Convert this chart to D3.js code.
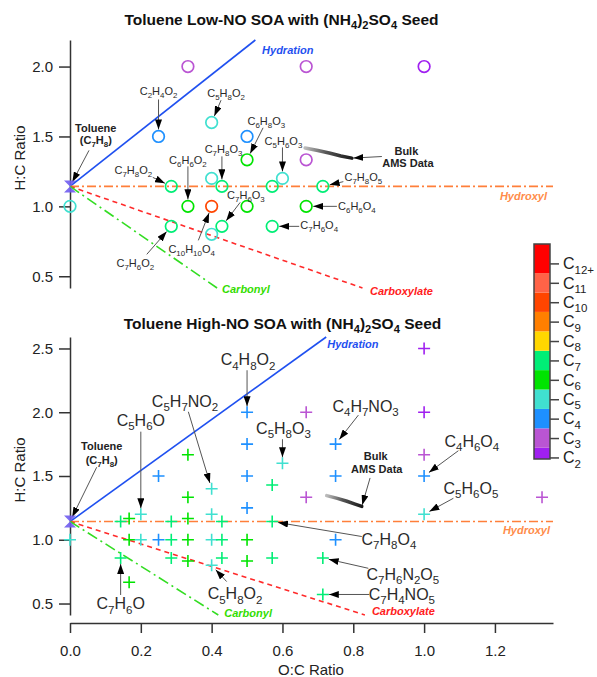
<!DOCTYPE html>
<html>
<head>
<meta charset='utf-8'>
<script src='https://cdn.jsdelivr.net/npm/d3@7'></script>
<style>
  body { margin: 0; background: #fff; }
  text { font-family: 'Liberation Sans', Arial, sans-serif; }
</style>
</head>
<body>
<div id='chart'></div>
<script>
// ---- data ----
var carbonNames = ['C2', 'C3', 'C4', 'C5', 'C6', 'C7', 'C8', 'C9', 'C10', 'C11', 'C12+'];
var carbonColors = ['#A020F0', '#BA55D3', '#1E90FF', '#40E0D0', '#00E400', '#00EE76',
  '#FFD700', '#FF7F00', '#FF4500', '#FF6347', '#FF0000'];

// low-NO panel (O:C, H:C, number of carbons)
var lowOC = [0, 0.333, 0.667, 1.0, 0.25, 0.4, 0.5, 0.5, 0.667, 0.6, 0.4, 0.286, 0.429, 0.571, 0.714,
  0.333, 0.4, 0.5, 0.667, 0.286, 0.429, 0.571, 0.4];
var lowHC = [1.0, 2.0, 2.0, 2.0, 1.5, 1.6, 1.5, 1.333, 1.333, 1.2, 1.2, 1.143, 1.143, 1.143, 1.143,
  1.0, 1.0, 1.0, 1.0, 0.857, 0.857, 0.857, 0.8];
var lowNC = [5, 3, 3, 2, 4, 5, 4, 6, 3, 5, 5, 7, 7, 7, 7, 6, 10, 6, 6, 7, 7, 7, 5];

// high-NO panel
var highOC = [0, 0.143, 0.167, 0.286, 0.333, 0.429, 0.571, 0.167, 0.2, 0.25, 0.286, 0.333, 0.4, 0.429,
  0.5, 0.75, 0.143, 0.286, 0.429, 0.571, 0.714, 0.333, 0.5, 0.4, 0.167, 0.714, 0.2, 0.4, 0.5, 1.0,
  0.333, 0.667, 1.333, 0.4, 0.571, 0.25, 0.5, 0.75, 1.0, 0.6, 0.333, 1.0, 0.5, 0.75, 0.5, 0.667, 1.0, 1.0];
var highHC = [1.0, 1.143, 1.167, 1.143, 1.167, 1.143, 1.143, 1.0, 1.0, 1.0, 1.0, 1.0, 1.0, 1.0,
  1.0, 1.0, 0.857, 0.857, 0.857, 0.857, 0.857, 0.833, 0.833, 0.8, 0.667, 0.571, 1.2, 1.2, 1.25, 1.2,
  1.333, 1.333, 1.333, 1.4, 1.429, 1.5, 1.5, 1.5, 1.5, 1.6, 1.667, 1.667, 1.75, 1.75, 2.0, 2.0, 2.0, 2.5];
var highNC = [5, 7, 6, 7, 6, 7, 7, 6, 5, 4, 7, 6, 5, 7,
  6, 4, 7, 7, 7, 7, 7, 6, 6, 5, 6, 7, 5, 5, 4, 5,
  6, 3, 3, 5, 7, 4, 4, 4, 4, 5, 6, 3, 4, 4, 4, 3, 2, 2];

// bulk AMS data tracks
var bulkLowOC = [0.664, 0.70, 0.735, 0.765, 0.796];
var bulkLowHC = [1.417, 1.40, 1.38, 1.36, 1.345];
var bulkHighOC = [0.725, 0.755, 0.782, 0.805, 0.824];
var bulkHighHC = [1.346, 1.325, 1.302, 1.28, 1.262];

// toluene precursor
var tolOC = 0, tolHC = 8 / 7;

// reference lines through toluene
var refNames = ['Hydration', 'Hydroxyl', 'Carboxylate', 'Carbonyl'];
var refSlopes = [2, 0, -0.88, -1.75];

// tick values
var xTicks = [0, 0.2, 0.4, 0.6, 0.8, 1.0, 1.2];
var yTicksLow = [0.5, 1.0, 1.5, 2.0];
var yTicksHigh = [0.5, 1.0, 1.5, 2.0, 2.5];

// annotated formulas
var lowNoteText = ['C2H4O2', 'C5H8O2', 'C6H8O3', 'C5H6O3', 'C7H8O3', 'C6H6O2', 'C7H8O2', 'C7H6O3',
  'C10H10O4', 'C7H6O2', 'C7H8O5', 'C6H6O4', 'C7H6O4'];
var lowNoteOC = [0.25, 0.4, 0.5, 0.6, 0.429, 0.333, 0.286, 0.429, 0.4, 0.286, 0.714, 0.667, 0.571];
var lowNoteHC = [1.5, 1.6, 1.333, 1.2, 1.143, 1.0, 1.143, 0.857, 1.0, 0.857, 1.143, 1.0, 0.857];

var highNoteText = ['C4H8O2', 'C5H7NO2', 'C5H6O', 'C5H8O3', 'C4H7NO3', 'C4H6O4', 'C5H6O5', 'C7H8O4',
  'C7H6N2O5', 'C7H4NO5', 'C5H8O2', 'C7H6O'];
var highNoteOC = [0.5, 0.4, 0.2, 0.6, 0.75, 1.0, 1.0, 0.571, 0.714, 0.714, 0.4, 0.143];
var highNoteHC = [2.0, 1.4, 1.2, 1.6, 1.75, 1.5, 1.2, 1.143, 0.857, 0.571, 0.8, 0.857];

// ---- layout ----
var fontFam = "'Liberation Sans', Arial, sans-serif";
var refStyle = [
  { color: '#1F50F0', label: '#1F50F0', dash: null },
  { color: '#FF7F3A', label: '#FF8C4A', dash: '9,3,2,3' },
  { color: '#FF2A2A', label: '#FF2020', dash: '5,4' },
  { color: '#33DD22', label: '#33DD00', dash: '11,4,2,4' }
];

// text offset (tx, ty = baseline) and arrow start (ax, ay), px from the target mark
var lowNotePos = [
  [0, -41.7, 0, -37], [14.4, -25.6, 9.4, -22.3], [19.3, -35, 16, -32], [1, -33, 0, -31],
  [1.6, -33, 0, -30], [0, -42, 0, -40], [-38, -12.4, -18.5, -9], [24, -27, 18.3, -24],
  [-20, 47, -13.3, 34], [-36, 40.3, -24.5, 28], [40.5, -5.7, 20.5, -4.7], [50.7, 3.5, 30.7, 0],
  [47, 3, 27, 0]
];
var highNotePos = [
  [1, -47, 0, -42], [-26.6, -82, -23.3, -77], [0, -88.3, 0, -82.6], [1, -29.3, 0, -24],
  [30, -32.5, 22.8, -29], [47.7, -29.3, 34.3, -25.3], [46.8, -20.3, 29.3, -16],
  [116.7, 23.4, 89.6, 15], [80, 22, 45.5, 10.3], [79, 5.5, 46.5, 0], [23.4, 34, 15, 16.3],
  [0, 51.3, 0, 37]
];

var svg = d3.select('#chart').append('svg')
  .attr('width', 597)
  .attr('height', 677);

var defs = svg.append('defs');
defs.append('marker')
  .attr('id', 'ah')
  .attr('viewBox', '0 0 10 10')
  .attr('refX', 10).attr('refY', 5)
  .attr('markerWidth', 10).attr('markerHeight', 7)
  .attr('markerUnits', 'userSpaceOnUse')
  .attr('preserveAspectRatio', 'none')
  .attr('orient', 'auto')
  .append('path').attr('d', 'M0,0L10,5L0,10Z').attr('fill', '#000');

var x = d3.scaleLinear().domain([0, 1.364]).range([70, 553]);
var yLow = d3.scaleLinear().domain([0.416, 2.19]).range([288, 40]);
var yHigh = d3.scaleLinear().domain([0.41, 2.59]).range([615, 337]);

// text with chemical subscripts
function chem(sel, str, fs) {
  var parts = str.match(/[0-9+]+|[^0-9+]+/g);
  var sub = fs * 0.72, shift = fs * 0.28, down = false;
  parts.forEach(function(p) {
    var t = sel.append('tspan').text(p);
    if (/^[0-9+]+$/.test(p)) {
      t.attr('font-size', sub).attr('dy', down ? 0 : shift);
      down = true;
    } else {
      t.attr('dy', down ? -shift : 0);
      down = false;
    }
  });
  return sel;
}

function arrow(g, sx, sy, tx, ty, gap) {
  var dx = tx - sx, dy = ty - sy, len = Math.sqrt(dx * dx + dy * dy);
  g.append('line')
    .attr('x1', sx).attr('y1', sy)
    .attr('x2', tx - dx / len * gap).attr('y2', ty - dy / len * gap)
    .attr('stroke', '#555').attr('stroke-width', 1)
    .attr('marker-end', 'url(#ah)');
}

function colorOf(n) {
  return carbonColors[Math.min(n, 12) - 2];
}

function drawPanel(p) {
  var y = p.y, g = svg.append('g');
  var yMin = y.domain()[0], yMax = y.domain()[1];

  // title
  chem(g.append('text').attr('x', p.titleX).attr('y', p.titleY)
    .attr('text-anchor', 'middle').attr('font-size', 15.5).attr('font-weight', 'bold')
    .attr('fill', '#111'), p.title, 15.5);

  // y axis
  var ya = g.append('g').attr('transform', 'translate(70,0)')
    .call(d3.axisLeft(y).tickValues(p.yTicks).tickFormat(d3.format('.1f'))
      .tickSize(11).tickPadding(6).tickSizeOuter(0));
  ya.select('.domain').attr('stroke', '#333').attr('stroke-width', 1.5);
  ya.selectAll('.tick line').attr('stroke', '#333').attr('stroke-width', 1.5);
  ya.selectAll('.tick text').attr('font-size', 15).attr('font-family', fontFam).attr('fill', '#222');

  g.append('text')
    .attr('transform', 'translate(25,' + p.yLabelY + ') rotate(-90)')
    .attr('text-anchor', 'middle').attr('font-size', 15).attr('fill', '#222')
    .text('H:C Ratio');

  // reference lines
  refSlopes.forEach(function(s, i) {
    var xe = s > 0 ? (yMax - tolHC) / s : s < 0 ? (yMin - tolHC) / s : x.domain()[1];
    var ye = tolHC + s * xe;
    var st = refStyle[i];
    g.append('line')
      .attr('x1', x(tolOC)).attr('y1', y(tolHC))
      .attr('x2', x(xe)).attr('y2', y(ye))
      .attr('stroke', st.color).attr('stroke-width', 1.6)
      .attr('stroke-dasharray', st.dash);
    var o = p.refLabel[i];
    g.append('text')
      .attr('x', x(xe) + o[0]).attr('y', y(ye) + o[1])
      .attr('text-anchor', o[2])
      .attr('font-size', 11).attr('font-weight', 'bold').attr('font-style', 'italic')
      .attr('fill', st.label)
      .text(refNames[i]);
  });

  // compound markers
  var pts = p.oc.map(function(d, i) { return { oc: d, hc: p.hc[i], n: p.nc[i] }; });
  if (p.marker === 'circle') {
    g.selectAll('.pt').data(pts).enter().append('circle')
      .attr('cx', function(d) { return x(d.oc); })
      .attr('cy', function(d) { return y(d.hc); })
      .attr('r', 5.8)
      .attr('fill', 'none')
      .attr('stroke', function(d) { return colorOf(d.n); })
      .attr('stroke-width', 1.7);
  } else {
    g.selectAll('.pt').data(pts).enter().append('path')
      .attr('transform', function(d) { return 'translate(' + x(d.oc) + ',' + y(d.hc) + ')'; })
      .attr('d', 'M-6,0H6M0,-6V6')
      .attr('fill', 'none')
      .attr('stroke', function(d) { return colorOf(d.n); })
      .attr('stroke-width', 1.6);
  }

  // bulk AMS track
  var bulk = p.bulkOC.map(function(d, i) { return [x(d), y(p.bulkHC[i])]; });
  var grad = defs.append('linearGradient').attr('id', 'bg' + p.id)
    .attr('gradientUnits', 'userSpaceOnUse')
    .attr('x1', bulk[0][0]).attr('y1', bulk[0][1])
    .attr('x2', bulk[bulk.length - 1][0]).attr('y2', bulk[bulk.length - 1][1]);
  grad.append('stop').attr('offset', '0%').attr('stop-color', '#bbb');
  grad.append('stop').attr('offset', '45%').attr('stop-color', '#555');
  grad.append('stop').attr('offset', '100%').attr('stop-color', '#1a1a1a');
  g.append('path').attr('d', d3.line()(bulk))
    .attr('fill', 'none').attr('stroke', 'url(#bg' + p.id + ')')
    .attr('stroke-width', 3.5).attr('stroke-linecap', 'round');

  var be = bulk[bulk.length - 1], bo = p.bulkLabel;
  g.append('text').attr('x', be[0] + bo[0]).attr('y', be[1] + bo[1])
    .attr('text-anchor', 'middle').attr('font-size', 11).attr('font-weight', 'bold')
    .attr('fill', '#222').text('Bulk');
  g.append('text').attr('x', be[0] + bo[2]).attr('y', be[1] + bo[3])
    .attr('text-anchor', 'middle').attr('font-size', 11).attr('font-weight', 'bold')
    .attr('fill', '#222').text('AMS Data');
  arrow(g, be[0] + bo[4], be[1] + bo[5], be[0], be[1], 1.5);

  // formula annotations
  p.notes.forEach(function(t, i) {
    var tx = x(p.noteOC[i]), ty = y(p.noteHC[i]), o = p.notePos[i];
    chem(g.append('text').attr('x', tx + o[0]).attr('y', ty + o[1])
      .attr('text-anchor', 'middle').attr('font-size', p.noteFont).attr('fill', '#2a2a2a'),
      t, p.noteFont);
    arrow(g, tx + o[2], ty + o[3], tx, ty, p.gap);
  });

  // toluene
  var tx0 = x(tolOC), ty0 = y(tolHC), to = p.tolLabel;
  g.append('text').attr('x', tx0 + to[0]).attr('y', ty0 + to[1])
    .attr('text-anchor', 'middle').attr('font-size', 11).attr('font-weight', 'bold')
    .attr('fill', '#222').text('Toluene');
  chem(g.append('text').attr('x', tx0 + to[0]).attr('y', ty0 + to[2])
    .attr('text-anchor', 'middle').attr('font-size', 11).attr('font-weight', 'bold')
    .attr('fill', '#222'), '(C7H8)', 11);
  arrow(g, tx0 + to[3], ty0 + to[4], tx0, ty0, 5);
  g.append('path')
    .attr('transform', 'translate(' + tx0 + ',' + ty0 + ')')
    .attr('d', 'M-6,-6L6,-6L-6,6L6,6Z')
    .attr('fill', '#6F5CF0').attr('fill-opacity', 0.9);
}

drawPanel({
  id: 'low', y: yLow, title: 'Toluene Low-NO SOA with (NH4)2SO4 Seed', titleX: 281.5, titleY: 25,
  yTicks: yTicksLow, yLabelY: 158, oc: lowOC, hc: lowHC, nc: lowNC, marker: 'circle',
  refLabel: [[6.7, 14, 'start'], [-6, 13.6, 'end'], [7.5, 7, 'start'], [5, 5, 'start']],
  bulkOC: bulkLowOC, bulkHC: bulkLowHC, bulkLabel: [54.5, -3.3, 56, 9, 30, -1.6],
  notes: lowNoteText, noteOC: lowNoteOC, noteHC: lowNoteHC, notePos: lowNotePos, noteFont: 11, gap: 7,
  tolLabel: [25.8, -54.7, -42.4, 19, -36]
});

drawPanel({
  id: 'high', y: yHigh, title: 'Toluene High-NO SOA with (NH4)2SO4 Seed', titleX: 282.5, titleY: 329,
  yTicks: yTicksHigh, yLabelY: 470, oc: highOC, hc: highHC, nc: highNC, marker: 'plus',
  refLabel: [[1, 11, 'start'], [-3, 12.4, 'end'], [7, 0, 'start'], [6, 2, 'start']],
  bulkOC: bulkHighOC, bulkHC: bulkHighHC, bulkLabel: [14, -46.4, 15, -33.7, 8.3, -28.4],
  notes: highNoteText, noteOC: highNoteOC, noteHC: highNoteHC, notePos: highNotePos, noteFont: 16, gap: 6,
  tolLabel: [31.7, -71.6, -57.6, 26.7, -54.3]
});

// x axis (bottom panel only)
var xa = svg.append('g').attr('transform', 'translate(0,623)')
  .call(d3.axisBottom(x).tickValues(xTicks).tickFormat(d3.format('.1f'))
    .tickSize(10).tickPadding(12).tickSizeOuter(0));
xa.select('.domain').attr('stroke', '#333').attr('stroke-width', 1.5);
xa.selectAll('.tick line').attr('stroke', '#333').attr('stroke-width', 1.5);
xa.selectAll('.tick text').attr('font-size', 15).attr('font-family', fontFam).attr('fill', '#222');
svg.append('text').attr('x', 311).attr('y', 675).attr('text-anchor', 'middle')
  .attr('font-size', 15).attr('fill', '#222').text('O:C Ratio');

// carbon number colour bar
var yLeg = d3.scaleLinear().domain([1.92, 13]).range([459, 244]);
var leg = svg.append('g');
carbonNames.forEach(function(name, i) {
  var n = i + 2;
  var lo = i === 0 ? 1.92 : n - 0.5;
  var hi = i === carbonNames.length - 1 ? 13 : n + 0.5;
  leg.append('rect')
    .attr('x', 534).attr('width', 16)
    .attr('y', yLeg(hi)).attr('height', yLeg(lo) - yLeg(hi))
    .attr('fill', carbonColors[i]);
});
leg.append('rect').attr('x', 534).attr('y', 244).attr('width', 16).attr('height', 215)
  .attr('fill', 'none').attr('stroke', '#444').attr('stroke-width', 1.5);
var la = leg.append('g').attr('transform', 'translate(550,0)')
  .call(d3.axisRight(yLeg).tickValues(d3.range(2, 13)).tickFormat('').tickSize(9).tickSizeOuter(0));
la.select('.domain').remove();
la.selectAll('.tick line').attr('stroke', '#444').attr('stroke-width', 1.5);
carbonNames.forEach(function(name, i) {
  chem(leg.append('text').attr('x', 563).attr('y', yLeg(i + 2) + 5.7)
    .attr('font-size', 16).attr('fill', '#222'), name, 16);
});
</script>
</body>
</html>
